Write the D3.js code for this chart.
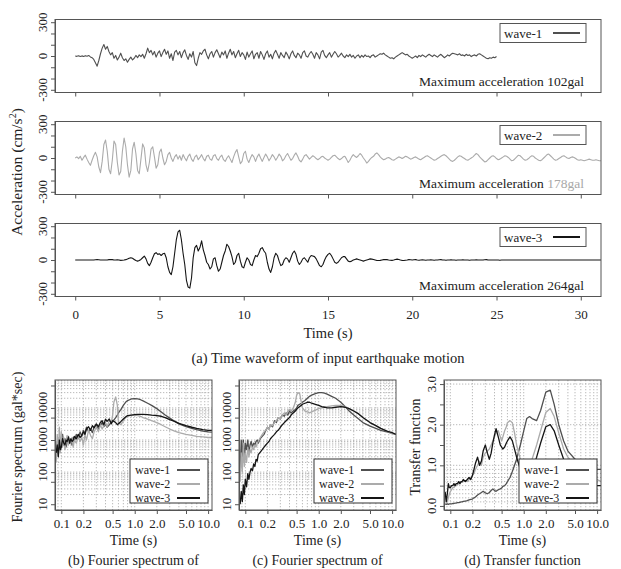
<!DOCTYPE html>
<html>
<head>
<meta charset="utf-8">
<script src="https://cdn.jsdelivr.net/npm/d3@7/dist/d3.min.js"></script>
<style>
  body { margin: 0; background: #fff; }
  svg { display: block; }
  text { font-family: "Liberation Serif", "DejaVu Serif", serif; fill: #222; }
</style>
</head>
<body>
<script>
// ---- data ----
const waveNames = ["wave-1", "wave-2", "wave-3"];
const maxAcc = [102, 178, 264];
const dt = 0.1; // s between samples of the waveforms

// acceleration (gal), one value every 0.1 s from t = 0
const wave1 = [
  0,-3,2,-5,1,-4,3,-2,5,-8,
  -15,-30,-60,-90,-40,20,70,102,60,85,
  40,10,30,-20,5,-35,-10,25,-15,-40,
  -25,-55,-30,-10,-35,-20,5,-15,10,-5,
  15,-20,20,70,30,50,10,40,-10,25,
  45,-5,30,60,15,45,-20,20,-40,35,
  50,10,40,-15,30,55,5,-30,20,-10,
  40,-60,-85,-20,30,15,45,60,10,-25,
  20,40,-10,30,55,20,-15,35,10,45,
  -20,25,60,10,40,-15,20,50,-5,30,
  10,-30,35,-10,20,45,-25,15,30,-20,
  40,10,-30,20,45,-10,15,-25,25,50,
  15,-20,30,5,-15,35,10,-25,20,45,
  5,-15,25,10,-20,30,45,0,-10,20,
  40,15,-20,30,10,-25,35,50,5,-15,
  10,30,-10,15,40,20,-10,5,25,0,
  -15,10,-5,15,-10,5,-20,0,10,-15,
  5,-10,10,-5,0,-15,5,10,-10,0,
  10,20,15,25,10,0,-10,-20,-15,-25,
  -10,0,10,20,30,20,10,15,0,-10,
  -20,-10,0,-15,5,-5,10,0,-10,5,
  15,5,-5,10,0,-10,5,15,0,-15,
  -5,10,0,15,25,20,15,10,20,5,
  10,0,15,5,10,-5,5,10,0,15,
  20,10,0,-10,-20,-25,-15,-20,-10,-15,
  -5
];
const wave2 = [
  0,10,-5,15,-20,5,25,-10,-40,-65,
  -20,20,50,10,-80,-130,-30,120,160,60,
  -100,-140,-20,150,120,-40,-150,-120,60,178,
  100,-60,-170,-110,80,140,40,-110,-140,-10,
  125,90,-60,-120,-40,80,100,10,-90,-60,
  50,80,0,-60,-30,30,50,0,-30,10,
  30,-10,20,-20,30,0,-25,15,35,-10,
  -30,10,25,-15,5,30,-5,-25,15,25,
  -10,-20,20,30,-5,-20,10,25,-15,-30,
  0,20,-10,-40,10,50,75,10,-50,-30,
  40,60,-10,-40,0,30,10,-30,10,35,
  0,-30,5,35,10,-25,0,30,10,-20,
  5,35,15,-25,-10,20,40,10,-20,-5,
  25,45,15,-20,-35,-10,20,30,10,-10,
  5,20,10,-5,-15,-5,10,15,0,-10,
  -20,-10,5,20,25,10,-5,-15,-5,10,
  15,-10,-40,-20,10,30,15,5,20,40,
  25,0,-20,-45,-30,-10,5,15,35,45,
  30,10,-5,-15,-10,0,5,-5,-15,-20,
  -10,0,10,5,-5,5,15,10,0,-10,
  -5,5,10,0,-10,-15,-5,5,15,20,
  10,0,-10,-20,-15,-5,5,15,25,30,
  20,5,-10,-25,-30,-20,-5,10,20,15,
  5,-5,-15,-20,-10,0,10,25,40,30,
  10,-5,-20,-35,-30,-15,0,15,20,10,
  -5,-15,-10,0,10,20,15,5,-10,-25,
  -20,-5,10,25,20,5,-10,-20,-15,-5,
  10,20,15,0,-10,-20,-25,-15,0,15,
  30,35,20,5,-10,-20,-15,-5,5,15,
  20,10,0,-5,5,10,5,-5,-15,-20,
  -15,-20,-25,-20,-15,-10,-15,-20,-20,-15,
  -20,-25,-25
];
const wave3 = [
  0,0,0,0,0,0,0,0,0,0,
  0,0,2,3,2,0,0,0,0,0,
  3,5,3,0,0,2,0,-3,-2,0,
  3,8,15,20,15,5,-5,-10,-5,5,
  20,35,10,-30,-50,-20,20,55,65,50,
  55,40,55,60,20,-60,-110,-130,-60,60,
  180,250,264,180,60,-40,-180,-240,-250,-160,
  20,110,130,80,110,170,90,40,-20,-40,
  -80,-60,10,20,-50,-100,-80,-20,40,80,
  140,120,80,30,-40,-20,40,60,-10,-60,
  -70,-20,20,0,-40,-50,0,40,30,60,
  100,110,80,60,-20,-80,-110,-60,20,60,
  40,-10,-50,-40,0,20,10,-20,20,60,
  80,50,-10,-40,-20,10,20,0,-20,20,
  40,35,30,10,-20,-50,-60,-40,0,30,
  50,60,40,10,-20,-30,-20,0,20,30,
  30,10,-10,-15,-10,0,5,10,5,0,
  -5,-10,-5,0,5,10,8,5,0,-5,
  -5,-3,0,3,5,3,0,-2,-3,0,
  5,8,5,0,-3,-5,-2,0,3,2,
  0,2,3,0,-2,0,2,0,-2,0,
  0,2,0,-2,0,0,2,3,0,0,
  -2,0,0,2,0,0,-2,0,0,0,
  2,0,0,0,-2,0,0,0,2,0,
  0,0,0,2,3,0,0,0,0,0,
  0,0,-2,0,0,0,0,0,0,0,
  0,0,0,0,0,0,0,0,0,0,
  0,0,0,0,0,0,0,0,0,0,
  0,0,0,0,0,0,0,0,0,0,
  0,0,0,0,0,0,0,0,0,0,
  0,0,0,0,0,0,0,0,0,0,
  0,0,0
];

// period (s) grid of the spectra
const periods = [
  0.085,0.088,0.091,0.094,0.097, 0.1,0.104,0.108,0.112,0.116,
  0.12,0.125,0.13,0.135,0.14, 0.145,0.15,0.16,0.17,0.18,
  0.19,0.2,0.21,0.22,0.235, 0.25,0.265,0.28,0.3,0.32,
  0.34,0.36,0.38,0.4,0.42, 0.45,0.48,0.5,0.52,0.55,
  0.58,0.6,0.65,0.7,0.75, 0.8,0.9,1.0,1.1,1.2,
  1.3,1.5,1.7,2.0,2.3, 2.6,3.0,3.5,4.0,5.0,
  6.0,7.0,8.5,10.0,11.3
];
// (b) Fourier spectrum (gal*sec)
const fourierB1 = [
  500,900,400,1200,600, 800,1500,700,1100,600,
  900,1300,800,1000,700, 1200,900,1500,1100,1800,
  1300,2000,1600,2500,1800, 2200,1700,2600,3000,2200,
  2800,3500,2600,3200,2500, 3000,3500,3800,4200,5000,
  6000,7000,9000,12000,15000, 17000,19000,19500,19000,18000,
  16500,14000,12000,9500,7500, 6000,4800,3800,3200,2600,
  2300,2100,1900,1800,1750
];
const fourierB2 = [
  200,1500,300,2500,400, 1800,600,1200,500,900,
  1400,700,1000,800,1200, 600,1000,800,1300,900,
  1200,700,1500,1000,2000, 1400,1100,1800,2500,1800,
  3000,2200,2800,3500,2600, 4000,3500,6000,15000,22000,
  12000,3500,3000,4000,5000, 5500,6000,6000,5800,5500,
  5000,4500,4000,3500,3000, 2600,2200,1900,1700,1500,
  1400,1300,1250,1200,1200
];
const fourierB3 = [
  400,700,300,1000,500, 600,1100,800,700,1000,
  900,1200,800,1100,900, 1000,1300,1100,1500,1200,
  1400,1800,1500,2200,2600, 2000,2800,2400,3200,2600,
  3500,4000,3000,4500,3800, 4500,3200,4000,3800,3500,
  3000,3200,3800,4500,5200, 5800,6000,6200,6300,6300,
  6300,6200,6000,5800,5500, 5000,4300,3800,3300,2800,
  2500,2300,2100,2000,2000
];
// (c) Fourier spectrum (gal*sec)
const fourierC1 = [
  100,1000,300,1000,200, 800,500,1000,400,700,
  900,600,800,700,900, 1000,800,1100,1300,1500,
  2000,2500,2200,3000,2600, 4000,3500,5000,4500,6000,
  5500,7000,6000,8000,7000, 8000,9000,10000,12000,13000,
  14000,15000,17000,20000,23000, 25000,28000,30000,30000,29000,
  27000,23000,20000,15000,11000, 8000,6000,4500,3500,2700,
  2300,2000,1800,1600,1500
];
const fourierC2 = [
  50,400,100,800,150, 400,200,600,300,500,
  400,600,500,700,600, 800,900,1200,1500,1800,
  2000,2500,2200,3000,2800, 3500,4000,5000,4500,6000,
  7000,6000,8000,9000,8000, 10000,15000,25000,30000,28000,
  15000,10000,8000,7500,7000, 7500,8500,9500,10000,10500,
  11000,11500,12000,12000,11000, 9500,8000,6500,5000,3500,
  2800,2300,1900,1600,1500
];
const fourierC3 = [
  10,25,12,40,20, 60,35,90,60,100,
  130,110,180,150,250, 220,350,420,500,600,
  700,800,900,1100,1300, 1500,1800,2000,2500,3000,
  3500,4000,4500,5000,6000, 7000,8000,9000,10000,11000,
  12000,13000,14000,15000,15000, 14000,13000,12000,11000,10500,
  10000,10000,10500,11000,10500, 9500,8000,6500,5000,3500,
  2800,2300,1900,1700,1500
];
// (d) Transfer function
const transfer1 = [
  0.05,0.04,0.05,0.04,0.05, 0.05,0.05,0.06,0.06,0.07,
  0.07,0.08,0.08,0.09,0.1, 0.1,0.11,0.12,0.13,0.15,
  0.16,0.17,0.2,0.22,0.27, 0.3,0.33,0.36,0.32,0.3,
  0.33,0.38,0.42,0.38,0.36, 0.4,0.42,0.44,0.48,0.5,
  0.55,0.6,0.7,0.85,1.0, 1.15,1.5,1.85,2.15,2.2,
  2.15,2.1,2.35,2.8,2.85, 2.5,2.0,1.6,1.35,1.15,
  1.05,1.0,0.95,0.9,0.9
];
const transfer2 = [
  0.3,0.15,0.1,0.2,0.3, 0.35,0.4,0.45,0.45,0.5,
  0.5,0.52,0.55,0.55,0.6, 0.58,0.6,0.62,0.6,0.65,
  0.7,0.75,0.8,0.9,1.0, 1.1,1.0,1.2,1.3,1.35,
  1.4,1.5,1.6,1.7,1.8, 1.85,1.7,1.6,1.7,1.85,
  1.95,2.05,2.1,2.05,1.8, 1.5,1.15,0.95,0.9,1.0,
  1.15,1.5,1.85,2.3,2.4, 2.2,1.8,1.4,1.2,1.0,
  0.9,0.8,0.7,0.65,0.6
];
const transfer3 = [
  0.35,0.1,0.3,0.55,0.45, 0.45,0.5,0.5,0.55,0.5,
  0.55,0.55,0.6,0.55,0.6, 0.6,0.65,0.6,0.65,0.7,
  0.65,0.75,0.9,1.05,1.2, 1.0,1.1,1.35,1.5,1.3,
  1.15,1.3,1.55,1.75,1.9, 1.7,1.5,1.45,1.4,1.45,
  1.55,1.6,1.7,1.6,1.4, 1.2,0.9,0.75,0.7,0.75,
  0.9,1.2,1.55,1.95,2.0, 1.85,1.5,1.15,0.95,0.8,
  0.7,0.6,0.55,0.5,0.5
];

// ticks and labels
const timeTicks = [0, 5, 10, 15, 20, 25, 30];
const accTicks = [-300, -200, -100, 0, 100, 200, 300];
const accLabels = [-300, 0, 300];
const periodTicks = [0.1, 0.2, 0.5, 1, 2, 5, 10];
const periodLabels = ["0.1", "0.2", "0.5", "1.0", "2.0", "5.0", "10.0"];
const periodGrid = [0.09,0.1,0.2,0.3,0.4,0.5,0.6,0.7,0.8,0.9,1,2,3,4,5,6,7,8,9,10];
const fourierTicks = [10, 50, 100, 500, 1000, 5000, 10000, 50000];
const fourierLabels = [10, 100, 1000, 10000];
const fourierGrid = [20,30,40,50,60,70,80,90,100,200,300,400,500,600,700,800,900,
  1000,2000,3000,4000,5000,6000,7000,8000,9000,10000,20000,30000,40000,50000,60000,70000];
const transferTicks = [0, 0.5, 1, 1.5, 2, 2.5, 3];
const transferLabels = [0, 1, 2, 3];
const transferGrid = [0.1,0.2,0.3,0.4,0.5,0.6,0.7,0.8,0.9,1,2,3];

const colors = ["#505050", "#ababab", "#151515"];

// ---- layout ----
const svg = d3.select("body").append("svg")
  .attr("width", 621)
  .attr("height", 569);

const boxStroke = "#555";

function rotLabel(g, x, y, txt, size) {
  g.append("text")
    .attr("transform", "translate(" + x + "," + y + ") rotate(-90)")
    .attr("text-anchor", "middle")
    .style("font-size", size + "px")
    .text(txt);
}

// ===== (a) time waveforms =====
const tLeft = 55, tRight = 601, tH = 73;
const tTops = [19.5, 121.5, 223.5];
const xT = d3.scaleLinear().domain([-1.2, 31.2]).range([tLeft, tRight]);
const waves = [wave1, wave2, wave3];

waves.forEach((w, i) => {
  const top = tTops[i];
  const y = d3.scaleLinear().domain([-324, 324]).range([top + tH, top]);
  const g = svg.append("g");

  g.append("clipPath").attr("id", "clipT" + i)
    .append("rect").attr("x", tLeft).attr("y", top).attr("width", tRight - tLeft).attr("height", tH);

  const line = d3.line().x((d, j) => xT(j * dt)).y(d => y(d));
  g.append("path")
    .datum(w)
    .attr("d", line)
    .attr("clip-path", "url(#clipT" + i + ")")
    .attr("fill", "none")
    .attr("stroke", colors[i])
    .attr("stroke-width", 1.1)
    .attr("stroke-linejoin", "round");

  g.append("rect")
    .attr("x", tLeft).attr("y", top).attr("width", tRight - tLeft).attr("height", tH)
    .attr("fill", "none").attr("stroke", boxStroke);

  const yAxis = d3.axisLeft(y).tickValues(accTicks).tickSize(4).tickSizeOuter(0).tickFormat("");
  g.append("g").attr("transform", "translate(" + tLeft + ",0)").call(yAxis)
    .call(s => s.selectAll("line,path").attr("stroke", boxStroke));
  accLabels.forEach(v => rotLabel(g, tLeft - 8, y(v), v, 13));

  const xAxis = d3.axisBottom(xT).tickValues(timeTicks).tickSize(4).tickSizeOuter(0).tickPadding(9)
    .tickFormat(i === 2 ? d3.format("d") : "");
  g.append("g").attr("transform", "translate(0," + (top + tH) + ")").call(xAxis)
    .call(s => s.select(".domain").remove())
    .call(s => s.selectAll("line").attr("stroke", boxStroke))
    .call(s => s.selectAll("text").style("font-size", "13px").attr("fill", "#222"));

  // legend
  g.append("rect").attr("x", 500).attr("y", top + 4).attr("width", 86).attr("height", 19)
    .attr("fill", "#fff").attr("stroke", boxStroke);
  g.append("text").attr("x", 504).attr("y", top + 18).style("font-size", "13px").text(waveNames[i]);
  g.append("line").attr("x1", 553).attr("x2", 580).attr("y1", top + 13.5).attr("y2", top + 13.5)
    .attr("stroke", colors[i]).attr("stroke-width", 2);

  const mt = g.append("text").attr("x", 584).attr("y", top + 66)
    .attr("text-anchor", "end").style("font-size", "13.5px");
  mt.append("tspan").text("Maximum acceleration ");
  mt.append("tspan").text(maxAcc[i] + "gal").attr("fill", i === 1 ? "#a8a8a8" : "#222");
});

const accTitle = svg.append("text")
  .attr("transform", "translate(22,172) rotate(-90)")
  .attr("text-anchor", "middle")
  .style("font-size", "15.5px");
accTitle.append("tspan").text("Acceleration (cm/s");
accTitle.append("tspan").text("2").attr("dy", -6).style("font-size", "10px");
accTitle.append("tspan").text(")").attr("dy", 6);

svg.append("text").attr("x", 328).attr("y", 338).attr("text-anchor", "middle")
  .style("font-size", "14.5px").text("Time (s)");
svg.append("text").attr("x", 328).attr("y", 363).attr("text-anchor", "middle")
  .style("font-size", "14.5px").text("(a) Time waveform of input earthquake motion");

// ===== (b)(c)(d) spectra =====
const bLefts = [55, 239, 444], bW = 157, bTop = 380, bBot = 510;
const yF = d3.scaleLog().domain([Math.pow(10, 0.82), Math.pow(10, 4.87)]).range([bBot, bTop]);
const yTF = d3.scaleLinear().domain([-0.1, 3.1]).range([bBot, bTop]);

const panels = [
  { series: [fourierB1, fourierB2, fourierB3], y: yF, caption: "(b) Fourier spectrum of",
    title: "Fourier spectrum (gal*sec)", titleX: 22, ticks: fourierTicks, labels: fourierLabels,
    fmt: d => d, grid: fourierGrid },
  { series: [fourierC1, fourierC2, fourierC3], y: yF, caption: "(c) Fourier spectrum of",
    title: null, ticks: fourierTicks, labels: fourierLabels, fmt: d => d, grid: fourierGrid },
  { series: [transfer1, transfer2, transfer3], y: yTF, caption: "(d) Transfer function",
    title: "Transfer function", titleX: 420, ticks: transferTicks, labels: transferLabels,
    fmt: d3.format(".1f"), grid: transferGrid }
];

panels.forEach((p, k) => {
  const L = bLefts[k], R = L + bW;
  const x = d3.scaleLog().domain([0.082, 11.3]).range([L, R]);
  const y = p.y;
  const g = svg.append("g");

  g.append("clipPath").attr("id", "clipB" + k)
    .append("rect").attr("x", L).attr("y", bTop).attr("width", bW).attr("height", bBot - bTop);

  // dotted grid
  const grid = g.append("g").attr("stroke", "#a8a8a8").attr("stroke-width", 0.8)
    .attr("stroke-dasharray", "1.3,1.7");
  grid.selectAll(".gx").data(periodGrid).join("line")
    .attr("x1", d => x(d)).attr("x2", d => x(d)).attr("y1", bTop).attr("y2", bBot);
  grid.selectAll(".gy").data(p.grid).join("line")
    .attr("x1", L).attr("x2", R).attr("y1", d => y(d)).attr("y2", d => y(d));

  const line = d3.line().x((d, j) => x(periods[j])).y(d => y(d));
  p.series.forEach((s, i) => {
    g.append("path")
      .datum(s)
      .attr("d", line)
      .attr("clip-path", "url(#clipB" + k + ")")
      .attr("fill", "none")
      .attr("stroke", colors[i])
      .attr("stroke-width", 1.3)
      .attr("stroke-linejoin", "round");
  });

  g.append("rect").attr("x", L).attr("y", bTop).attr("width", bW).attr("height", bBot - bTop)
    .attr("fill", "none").attr("stroke", boxStroke);

  const yAxis = d3.axisLeft(y).tickValues(p.ticks).tickSize(4).tickSizeOuter(0).tickFormat("");
  g.append("g").attr("transform", "translate(" + L + ",0)").call(yAxis)
    .call(s => s.selectAll("line,path").attr("stroke", boxStroke));
  p.labels.forEach(v => rotLabel(g, L - 8, y(v), p.fmt(v), 13));

  const xAxis = d3.axisBottom(x).tickValues(periodTicks).tickSize(4).tickSizeOuter(0).tickPadding(5)
    .tickFormat((d, i) => periodLabels[i]);
  g.append("g").attr("transform", "translate(0," + bBot + ")").call(xAxis)
    .call(s => s.selectAll("line,path").attr("stroke", boxStroke))
    .call(s => s.selectAll("text").style("font-size", "13px").attr("fill", "#222"));

  // legend
  const lx = L + 75, ly = 459;
  g.append("rect").attr("x", lx).attr("y", ly).attr("width", 78).attr("height", 44)
    .attr("fill", "#fff").attr("stroke", "#333");
  waveNames.forEach((n, i) => {
    const yy = ly + 11 + i * 14;
    g.append("text").attr("x", lx + 5).attr("y", yy + 4).style("font-size", "12px").text(n);
    g.append("line").attr("x1", lx + 47).attr("x2", lx + 70).attr("y1", yy).attr("y2", yy)
      .attr("stroke", colors[i]).attr("stroke-width", 2);
  });

  svg.append("text").attr("x", (L + R) / 2).attr("y", 545).attr("text-anchor", "middle")
    .style("font-size", "14px").text("Time (s)");
  svg.append("text").attr("x", (L + R) / 2).attr("y", 565).attr("text-anchor", "middle")
    .style("font-size", "14px").text(p.caption);
  if (p.title) rotLabel(svg, p.titleX, 447, p.title, 14);
});
</script>
</body>
</html>
